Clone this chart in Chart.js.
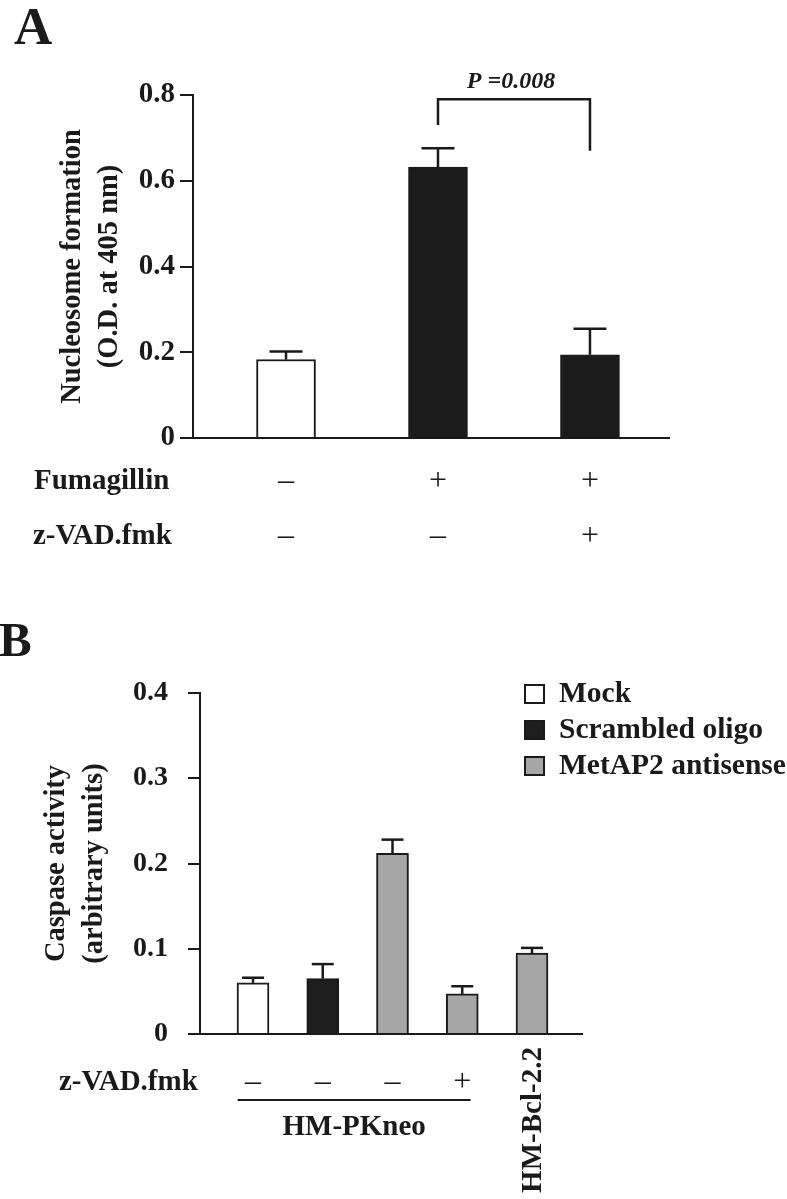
<!DOCTYPE html>
<html>
<head>
<meta charset="utf-8">
<title>Nucleosome formation and caspase activity</title>
<script src="https://cdn.jsdelivr.net/npm/chart.js@4.4.1/dist/chart.umd.min.js"></script>
<style>
  html, body { margin: 0; padding: 0; background: #fff; }
  body { width: 787px; height: 1199px; position: relative; overflow: hidden; }
  .panel { position: absolute; left: 0; width: 787px; }
  #panel-a { top: 0; height: 600px; }
  #panel-b { top: 580px; height: 619px; }
</style>
</head>
<body>
<div class="panel" id="panel-a"><canvas id="chart-a"></canvas></div>
<div class="panel" id="panel-b"><canvas id="chart-b"></canvas></div>
<script>
// ── Data ───────────────────────────────────────────────────────────────────

// Panel A
const A_GROUPS     = [1, 2, 3];
const A_VALUES     = [0.183, 0.632, 0.194];
const A_ERRORS     = [0.019, 0.044, 0.061];
const A_FUMAGILLIN = ['–', '+', '+'];
const A_ZVAD       = ['–', '–', '+'];
const A_TICKS      = [0, 0.2, 0.4, 0.6, 0.8];
const A_PVALUE     = 'P =0.008';

// Panel B
const B_GROUPS  = [1, 2, 3, 4, 5];
const B_VALUES  = [0.060, 0.065, 0.212, 0.047, 0.095];
const B_ERRORS  = [0.006, 0.017, 0.016, 0.009, 0.006];
const B_KIND    = [0, 1, 2, 2, 2];
const B_LEGEND  = ['Mock', 'Scrambled oligo', 'MetAP2 antisense'];
const B_ZVAD    = ['–', '–', '–', '+'];
const B_TICKS   = [0, 0.1, 0.2, 0.3, 0.4];

// ── Styling ────────────────────────────────────────────────────────────────

const SERIF = "'Liberation Serif', 'Times New Roman', serif";
const INK   = '#1a1a1a';
const KIND_COLORS = ['#ffffff', '#1e1e1e', '#a6a6a6'];

// ── Helpers ────────────────────────────────────────────────────────────────

function txt(ctx, s, x, y, font, align = 'left', baseline = 'alphabetic') {
  ctx.save();
  ctx.font = font;
  ctx.fillStyle = INK;
  ctx.textAlign = align;
  ctx.textBaseline = baseline;
  ctx.fillText(s, x, y);
  ctx.restore();
}

function line(ctx, pts, width = 2) {
  ctx.save();
  ctx.strokeStyle = INK;
  ctx.lineWidth = width;
  ctx.beginPath();
  pts.forEach(([x, y], i) => (i ? ctx.lineTo(x, y) : ctx.moveTo(x, y)));
  ctx.stroke();
  ctx.restore();
}

const tickLabel = v => (v === 0 ? '0' : v.toFixed(1));

// upward error bars drawn from the library's scales
function errorBars(values, errors, capWidth) {
  return {
    id: 'errorBars',
    afterDatasetsDraw(chart) {
      const { ctx } = chart;
      const y = chart.scales.y;
      chart.getDatasetMeta(0).data.forEach((bar, i) => {
        const top = y.getPixelForValue(values[i] + errors[i]);
        line(ctx, [[bar.x, bar.y], [bar.x, top]], 2.5);
        line(ctx, [[bar.x - capWidth / 2, top], [bar.x + capWidth / 2, top]], 2.5);
      });
    },
  };
}

function yAxis(ticks, title, tickLength, tickPad, tickSize, titlePad, lineHeight, width) {
  return {
    min: ticks[0], max: ticks[ticks.length - 1],
    afterBuildTicks: s => { s.ticks = ticks.map(v => ({ value: v })); },
    afterFit: s => { s.width = width; },
    border: { display: true, color: INK, width: 2 },
    grid: { display: true, drawOnChartArea: false, drawTicks: true, tickLength, color: INK, lineWidth: 2 },
    ticks: {
      color: INK, padding: tickPad, callback: tickLabel,
      font: { family: SERIF, size: tickSize, weight: 'bold' },
    },
    title: {
      display: true, text: title, color: INK,
      font: { family: SERIF, size: 28.5, weight: 'bold', lineHeight },
      padding: { top: titlePad, bottom: 0 },
    },
  };
}

function xAxis(min, max) {
  return {
    type: 'linear', min, max, offset: false,
    afterFit: s => { s.height = 0; },
    border: { display: true, color: INK, width: 2 },
    grid: { display: false, drawTicks: false },
    ticks: { display: false },
  };
}

// ── Panel A ────────────────────────────────────────────────────────────────

const panelA = {
  id: 'panelA',
  afterDraw(chart) {
    const { ctx } = chart;
    const x = chart.scales.x, y = chart.scales.y;
    txt(ctx, 'A', 14, 44, `bold 53px ${SERIF}`);

    // significance bracket between groups 2 and 3
    const x1 = x.getPixelForValue(2), x2 = x.getPixelForValue(3);
    const yTop = y.getPixelForValue(0.79);
    line(ctx, [[x1, y.getPixelForValue(0.73)], [x1, yTop], [x2, yTop], [x2, y.getPixelForValue(0.67)]], 2.5);
    txt(ctx, A_PVALUE, (x1 + x2) / 2 - 3, yTop - 11, `italic bold 24px ${SERIF}`, 'center');

    txt(ctx, 'Fumagillin', 34, 482, `bold 29px ${SERIF}`, 'left', 'middle');
    txt(ctx, 'z-VAD.fmk', 33, 537, `bold 29px ${SERIF}`, 'left', 'middle');
    A_GROUPS.forEach((g, i) => {
      txt(ctx, A_FUMAGILLIN[i], x.getPixelForValue(g), 482, `32px ${SERIF}`, 'center', 'middle');
      txt(ctx, A_ZVAD[i], x.getPixelForValue(g), 537, `32px ${SERIF}`, 'center', 'middle');
    });
  },
};

new Chart(document.getElementById('chart-a'), {
  type: 'bar',
  data: {
    datasets: [{
      data: A_GROUPS.map((g, i) => ({ x: g, y: A_VALUES[i] })),
      backgroundColor: ['#ffffff', '#1b1b1b', '#1b1b1b'],
      borderColor: INK,
      borderWidth: 2,
      barThickness: 59,
    }],
  },
  options: {
    responsive: true, maintainAspectRatio: false, animation: false,
    layout: { padding: { left: 0, top: 95, right: 118, bottom: 162 } },
    plugins: { legend: { display: false }, tooltip: { enabled: false } },
    scales: {
      x: xAxis(0.388, 3.52),
      y: yAxis(A_TICKS, ['Nucleosome formation', '(O.D. at 405 nm)'], 13, 5, 29, 54.5, 1.3, 193),
    },
  },
  plugins: [errorBars(A_VALUES, A_ERRORS, 33), panelA],
});

// ── Panel B ────────────────────────────────────────────────────────────────

const panelB = {
  id: 'panelB',
  afterDraw(chart) {
    const { ctx } = chart;
    const x = chart.scales.x;
    txt(ctx, 'B', -1, 76, `bold 49px ${SERIF}`);

    // legend
    B_LEGEND.forEach((label, i) => {
      const top = 105 + 36 * i;
      ctx.save();
      ctx.fillStyle = KIND_COLORS[i];
      ctx.fillRect(525, top, 19, 18);
      ctx.strokeStyle = INK;
      ctx.lineWidth = 2;
      ctx.strokeRect(525, top, 19, 18);
      ctx.restore();
      txt(ctx, label, 559, top + 9, `bold 29.5px ${SERIF}`, 'left', 'middle');
    });

    txt(ctx, 'z-VAD.fmk', 59, 503, `bold 29px ${SERIF}`, 'left', 'middle');
    B_ZVAD.forEach((s, i) => {
      txt(ctx, s, x.getPixelForValue(B_GROUPS[i]), 503, `32px ${SERIF}`, 'center', 'middle');
    });

    const l1 = x.getPixelForValue(0.78), l2 = x.getPixelForValue(4.12);
    line(ctx, [[l1, 520], [l2, 520]], 2);
    txt(ctx, 'HM-PKneo', (l1 + l2) / 2, 548, `bold 29px ${SERIF}`, 'center', 'middle');

    ctx.save();
    ctx.translate(x.getPixelForValue(5) + 2, 540);
    ctx.rotate(-Math.PI / 2);
    txt(ctx, 'HM-Bcl-2.2', 0, 0, `bold 29px ${SERIF}`, 'center', 'middle');
    ctx.restore();
  },
};

new Chart(document.getElementById('chart-b'), {
  type: 'bar',
  data: {
    datasets: [{
      data: B_GROUPS.map((g, i) => ({ x: g, y: B_VALUES[i] })),
      backgroundColor: B_KIND.map(k => KIND_COLORS[k]),
      borderColor: INK,
      borderWidth: 2,
      barThickness: 32,
    }],
  },
  options: {
    responsive: true, maintainAspectRatio: false, animation: false,
    layout: { padding: { left: 0, top: 113, right: 205, bottom: 165 } },
    plugins: { legend: { display: false }, tooltip: { enabled: false } },
    scales: {
      x: xAxis(0.24, 5.717),
      y: yAxis(B_TICKS, ['Caspase activity', '(arbitrary units)'], 12, 20, 28, 38, 1.33, 200),
    },
  },
  plugins: [errorBars(B_VALUES, B_ERRORS, 22), panelB],
});
</script>
</body>
</html>
